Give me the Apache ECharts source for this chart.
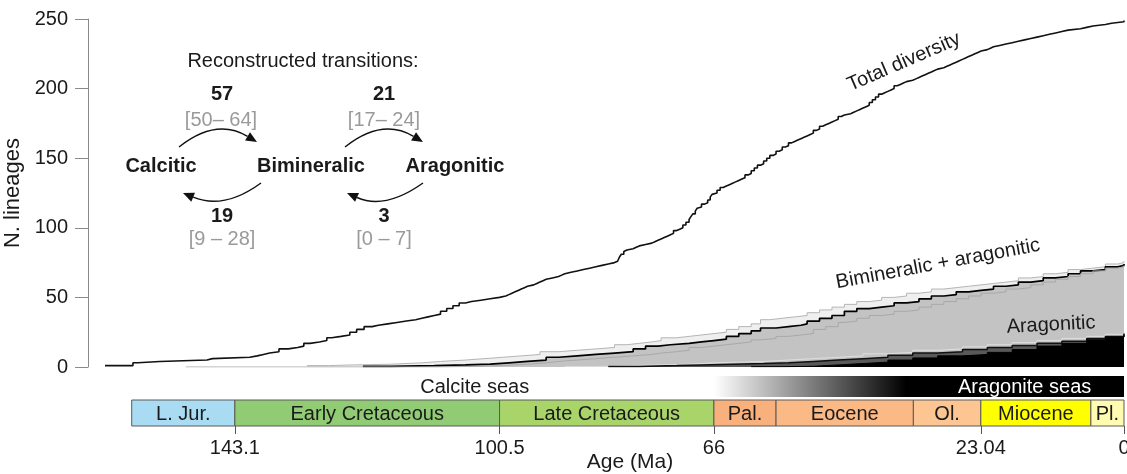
<!DOCTYPE html>
<html><head><meta charset="utf-8">
<script src="https://cdn.jsdelivr.net/npm/echarts@6/dist/echarts.min.js"></script>
<style>html,body{margin:0;padding:0;background:#fff}#c{width:1127px;height:474px}</style>
</head><body><div id="c"></div>
<script>
// ---------- DATA (age in Ma, number of lineages) ----------
const totalDiversity = [
[164,1],[159.5,3],[158.7,4],[155.2,5],[147.6,6],[146.7,7],[140.7,8],[139.5,9],[138.5,10],[137.5,11],[136,13],[134.5,14],[133,15],[132,17],[131,18],[129.5,19],[128.3,21],[127.5,22],[126,23],[124.6,25],[123.5,27],[122.3,29],[121,30],[120,31],[118.5,32],[117,33],[115.5,34],[114,35],[113,36],[112,37],[111,38],[110,40],[109,42],[108,44],[107,46],[106,47],[105,48],[103.5,49],[102,50],[100.5,51],[99.5,52],[99,53],[98.5,54],[98,55],[97.5,56],[97,57],[96.5,58],[96,59],[95,60],[94.5,61],[94,62],[93.5,63],[93,64],[92,65],[91,66],[90.5,67],[90,68],[89,69],[88,70],[87,71],[86,72],[85,73],[84,74],[83,75],[82,76],[81.5,77],[81.2,79],[80.9,81],[80.5,83],[80.2,84],[80,85],[79,86],[78.5,87],[78,88],[77,89],[76,90],[75.5,91],[75,92],[74.5,93],[74,94],[73.5,95],[73,96],[72.5,98],[72,99],[71.5,100],[71,102],[70.5,104],[70,106],[69.7,108],[69.4,110],[69,112],[68.7,114],[68.4,115],[68,117],[67.5,118],[67,120],[66.6,122],[66.3,124],[66,125],[65.5,127],[65,129],[64.5,130],[64,131],[63.5,132],[63,133],[62.5,134],[62,135],[61.5,136],[61,138],[60.5,139],[60,141],[59.5,143],[59,145],[58.5,146],[58,148],[57.5,150],[57,152],[56.5,153],[56,155],[55.5,156],[55,158],[54.5,159],[54,161],[53.5,162],[53,163],[52.5,164],[52,165],[51.5,166],[51,167],[50.5,168],[50,170],[49.5,171],[49,173],[48.5,174],[48,175],[47.5,176],[47,177],[46.5,178],[46,180],[45.5,181],[45,182],[44,183],[43.5,184],[43,185],[42.5,186],[42,187],[41.5,188],[41,190],[40.5,192],[40,194],[39.5,196],[39,197],[38.5,198],[38,199],[37.5,200],[37,202],[36.5,203],[36,204],[35.5,205],[35,206],[34,207],[33.5,208],[33,209],[32.5,210],[32,211],[31.5,212],[31,213],[30.5,214],[30,215],[29,216],[28.5,217],[28,218],[27.5,219],[27,220],[26.5,221],[26,222],[25.5,223],[25,224],[24.5,225],[24,226],[23.5,227],[23,228],[22,229],[21.5,230],[21,231],[20,232],[19,233],[18,234],[17,235],[16,236],[15,237],[14,238],[13,239],[12,240],[11,241],[10,242],[9,243],[7,244],[6,245],[5,246],[3,247],[2,248],[0,249]
];
const bimArUpper = [
[131.5,1],[128,1.5],[124,2],[118,3],[113,4],[110,5],[106,6],[103,7],[100,8],[97,9],[94,11],[91,12],[88,13],[85,14],[82,16],[80,17],[78,18],[76,19],[74.5,21],[72,22],[70,23],[68,24],[66,25],[64,27],[62,29],[60,31],[58.5,34],[57,35],[55,36],[53,37],[51,39],[49,41],[47,43],[45,45],[43,47],[41,48],[39,50],[37,51],[35,53],[33,54],[31,56],[29,57],[27,58],[25,59],[23,60],[21,61],[19,62],[17,64],[15,65],[13,67],[11,68],[9,70],[7,71],[5,72],[3,74],[1,75],[0,76]
];
const bimArMedian = [
[122.5,0.5],[118,1],[111,1.5],[106,2],[102,3],[99,4],[96,5],[93,7],[91,8],[88,9],[85,10],[82,11],[79,13],[77,15],[75,16],[73,17],[70,18],[68,19],[66,20],[64,22],[62,24],[60,26],[58.5,28],[56,29],[54,30],[52,31],[51,33],[49,35],[47,37],[45,40],[43,42],[41,43],[39,44],[37,46],[35,47],[33,49],[31,51],[29,52],[27,54],[25,55],[23,56],[21,58],[19,59],[17,61],[15,62],[13,64],[11,65],[9,67],[7,69],[5,70],[3,72],[1,73],[0,74]
];
const bimArLower = [
[151,0],[110,0.5],[104,1],[100,2],[96,3],[93,4],[91,5],[88,6],[85,7],[82,8],[79,9],[76,10],[74.5,11],[72,12],[70,14],[68,15],[66,16],[64,17],[62,18],[60,19.5],[58.5,20.5],[56,22],[54,23],[52,24],[50,27],[48,29],[46,32],[45,33],[43,35],[41,37],[39,38],[37,40],[35,41],[33,43],[31,45],[29,47],[27,49],[25,51],[23,53],[21,54],[19,56],[17,57],[15,59],[13,61],[11,63],[9,65],[7,67],[5,69],[3,71],[1,72],[0,73]
];
const aragUpper = [
[90,0.3],[85,1],[80,1.5],[75,2],[70,3],[66,3.5],[62,4],[58,5],[54,6],[50,7],[46,8],[42,9.5],[38,10.5],[34,12],[30,13],[26,14.5],[22,16],[18,17.5],[14,19],[10,20.5],[6,22],[3,23.5],[0,25]
];
const aragMedian = [
[83,0.3],[78,1],[72,1.5],[68,2],[63,2.5],[58,3],[54,4],[50,5],[46,6],[42,7],[38,8.5],[34,10],[30,11],[26,12.5],[22,14],[18,15.5],[14,17],[10,18.5],[6,20.5],[3,22],[0,24]
];
const aragLower = [
[60,0.2],[55,0.5],[50,1.5],[46,2.5],[42,3.5],[38,5],[34,6.5],[30,8],[26,9],[22,10.5],[18,12.5],[14,15],[10,17],[6,19.5],[3,21.5],[0,23.5]
];
const yTicks = [0, 50, 100, 150, 200, 250];
const ageTicks = [143.1, 100.5, 66, 23.04, 0];
const periodNames = ['L. Jur.', 'Early Cretaceous', 'Late Cretaceous', 'Pal.', 'Eocene', 'Ol.', 'Miocene', 'Pl.'];
const periodStart = [159.7, 143.1, 100.5, 66, 56, 33.9, 23.04, 5.33];
const periodEnd   = [143.1, 100.5, 66, 56, 33.9, 23.04, 5.33, 0];
const seaNames = ['Calcite seas', 'Aragonite seas'];
const seaLabelAge = [104.5, 16];
const aragoniteSeaStart = 66, aragoniteSeaFull = 35;
const transitions = { calToBim: ['57', '[50– 64]'], bimToCal: ['19', '[9 – 28]'], bimToAra: ['21', '[17– 24]'], araToBim: ['3', '[0 – 7]'] };

// ---------- STYLE ----------
const FONT = '"Liberation Sans", Arial, Helvetica, sans-serif';
const periodColors = ['#a9dcf3', '#91cb74', '#a8d46a', '#f8b07c', '#fbb985', '#fdc592', '#ffff00', '#fffbb0'];
const X_MAX = 164;

const chart = echarts.init(document.getElementById('c'), null, {renderer: 'canvas'});

function lineSeries(data, lineColor, lineWidth, areaColor) {
  const s = {type: 'line', data: data, step: 'end', symbol: 'none', showSymbol: false,
    xAxisIndex: 0, yAxisIndex: 0, silent: true, animation: false,
    lineStyle: {color: lineColor, width: lineWidth}};
  if (areaColor) s.areaStyle = {color: areaColor, opacity: 1};
  return s;
}

function txt(text, x, y, opts) {
  opts = opts || {};
  return {type: 'text', x: x, y: y, rotation: opts.rot || 0, silent: true, z: 100,
    style: {text: text, fill: opts.color || '#1a1a1a', font: (opts.bold ? 'bold ' : '') + (opts.size || 20) + 'px ' + FONT,
      align: 'center', verticalAlign: 'middle', textAlign: 'center', textVerticalAlign: 'middle'}};
}

function arrow(p0, pm, tip) {
  const cx = 2 * pm[0] - 0.5 * (p0[0] + tip[0]);
  const cy = 2 * pm[1] - 0.5 * (p0[1] + tip[1]);
  let dx = tip[0] - cx, dy = tip[1] - cy;
  const d = Math.hypot(dx, dy); dx /= d; dy /= d;
  const L = 11, W = 4.8;
  const bx = tip[0] - dx * L, by = tip[1] - dy * L;
  return [
    {type: 'bezierCurve', silent: true, z: 100, shape: {x1: p0[0], y1: p0[1], x2: bx, y2: by, cpx1: cx, cpy1: cy},
      style: {stroke: '#111', lineWidth: 1.4, fill: null}},
    {type: 'polygon', silent: true, z: 100, shape: {points: [[tip[0], tip[1]], [bx - dy * W, by + dx * W], [bx + dy * W, by - dx * W]]},
      style: {fill: '#111'}}
  ];
}

const graphics = [
  txt('Reconstructed transitions:', 303, 61),
  txt(transitions.calToBim[0], 222, 94, {bold: true}),
  txt(transitions.calToBim[1], 221, 120, {color: '#9a9a9a'}),
  txt(transitions.bimToAra[0], 384, 94, {bold: true}),
  txt(transitions.bimToAra[1], 384, 120, {color: '#9a9a9a'}),
  txt('Calcitic', 161, 166, {bold: true}),
  txt('Bimineralic', 311, 166, {bold: true}),
  txt('Aragonitic', 455, 166, {bold: true}),
  txt(transitions.bimToCal[0], 222, 216, {bold: true}),
  txt(transitions.bimToCal[1], 222, 239, {color: '#9a9a9a'}),
  txt(transitions.araToBim[0], 384, 216, {bold: true}),
  txt(transitions.araToBim[1], 384, 239, {color: '#9a9a9a'}),
  ...arrow([179, 147], [217, 131], [257, 142]),
  ...arrow([261, 183], [223, 199], [183, 193]),
  ...arrow([345, 147], [383, 131], [423, 142]),
  ...arrow([423, 183], [385, 199], [347, 193]),
  txt('Total diversity', 904, 62, {rot: 23.4 * Math.PI / 180}),
  txt('Bimineralic + aragonitic', 938, 264, {rot: 10.5 * Math.PI / 180}),
  txt('Aragonitic', 1051, 325, {rot: 3 * Math.PI / 180}),
  txt('Age (Ma)', 630, 462, {size: 21})
];

const option = {
  backgroundColor: '#fff',
  animation: false,
  textStyle: {fontFamily: FONT},
  grid: [
    {left: 105, right: 3, top: 19, bottom: 107, outerBoundsMode: 'none'},
    {left: 105, right: 3, top: 400, height: 26, outerBoundsMode: 'none'},
    {left: 105, right: 3, top: 376, height: 21, outerBoundsMode: 'none'}
  ],
  xAxis: [
    {gridIndex: 0, type: 'value', min: 0, max: X_MAX, inverse: true, show: false},
    {gridIndex: 1, type: 'value', min: 0, max: X_MAX, inverse: true,
      axisLine: {show: false}, splitLine: {show: false},
      axisTick: {show: true, length: 8, customValues: ageTicks, lineStyle: {color: '#555'}},
      axisLabel: {show: true, customValues: ageTicks, margin: 12, fontSize: 20, color: '#1a1a1a', fontFamily: FONT,
        showMinLabel: true, showMaxLabel: true}},
    {gridIndex: 2, type: 'value', min: 0, max: X_MAX, inverse: true, show: false}
  ],
  yAxis: [
    {gridIndex: 0, type: 'value', min: 0, max: 250, interval: 50, offset: 17,
      axisLine: {show: true, onZero: false, lineStyle: {color: '#8a8a8a', width: 1}},
      axisTick: {show: true, length: 13, lineStyle: {color: '#8a8a8a'}},
      axisLabel: {margin: 20, fontSize: 20, color: '#1a1a1a', fontFamily: FONT},
      splitLine: {show: false},
      name: 'N. lineages', nameLocation: 'middle', nameGap: 52,
      nameTextStyle: {fontSize: 22, color: '#1a1a1a', fontFamily: FONT}},
    {gridIndex: 1, type: 'value', min: 0, max: 1, show: false},
    {gridIndex: 2, type: 'value', min: 0, max: 1, show: false}
  ],
  graphic: graphics,
  series: [
    lineSeries(bimArUpper, '#b4b4b4', 1, '#efefef'),
    lineSeries(bimArMedian, '#000', 1.7, '#c3c3c3'),
    lineSeries(bimArLower, '#a8a8a8', 1, null),
    lineSeries(aragUpper, '#dedede', 1, null),
    lineSeries(aragMedian, '#111', 1.5, '#595959'),
    lineSeries(aragLower, '#000', 1, '#000'),
    lineSeries(totalDiversity, '#111', 1.6, null),
    {
      type: 'custom', xAxisIndex: 1, yAxisIndex: 1, silent: true, animation: false,
      data: periodNames.map((n, i) => [periodStart[i], periodEnd[i], i]),
      encode: {x: [0, 1], y: []},
      renderItem: function (params, api) {
        const i = api.value(2);
        const a = api.coord([api.value(0), 1]);
        const b = api.coord([api.value(1), 0]);
        const x = Math.min(a[0], b[0]), w = Math.abs(b[0] - a[0]);
        const y = Math.min(a[1], b[1]), h = Math.abs(b[1] - a[1]);
        return {type: 'group', children: [
          {type: 'rect', shape: {x: x, y: y, width: w, height: h},
            style: {fill: periodColors[i], stroke: '#5a5a5a', lineWidth: 1}},
          {type: 'text', style: {text: periodNames[i], x: x + w / 2, y: y + h / 2 + 1,
            align: 'center', verticalAlign: 'middle', textAlign: 'center', textVerticalAlign: 'middle',
            font: '20px ' + FONT, fill: '#1a1a1a'}}
        ]};
      }
    },
    {
      type: 'custom', xAxisIndex: 2, yAxisIndex: 2, silent: true, animation: false,
      data: [[aragoniteSeaStart, 0, aragoniteSeaFull]],
      encode: {x: [0, 1], y: []},
      renderItem: function (params, api) {
        const a = api.coord([api.value(0), 1]);
        const b = api.coord([api.value(1), 0]);
        const f = api.coord([api.value(2), 0]);
        const x = Math.min(a[0], b[0]), w = Math.abs(b[0] - a[0]);
        const y = Math.min(a[1], b[1]), h = Math.abs(b[1] - a[1]);
        const frac = (f[0] - x) / w;
        const c1 = api.coord([seaLabelAge[0], 0.5]);
        const c2 = api.coord([seaLabelAge[1], 0.5]);
        return {type: 'group', children: [
          {type: 'rect', shape: {x: x, y: y, width: w, height: h},
            style: {fill: new echarts.graphic.LinearGradient(0, 0, 1, 0, [
              {offset: 0, color: '#ffffff'}, {offset: frac, color: '#000000'}, {offset: 1, color: '#000000'}])}},
          {type: 'text', style: {text: seaNames[0], x: c1[0], y: c1[1] + 1, align: 'center', verticalAlign: 'middle',
            textAlign: 'center', textVerticalAlign: 'middle', font: '20px ' + FONT, fill: '#1a1a1a'}},
          {type: 'text', style: {text: seaNames[1], x: c2[0], y: c2[1] + 1, align: 'center', verticalAlign: 'middle',
            textAlign: 'center', textVerticalAlign: 'middle', font: '20px ' + FONT, fill: '#ffffff'}}
        ]};
      }
    }
  ]
};
chart.setOption(option);
</script>
</body></html>
